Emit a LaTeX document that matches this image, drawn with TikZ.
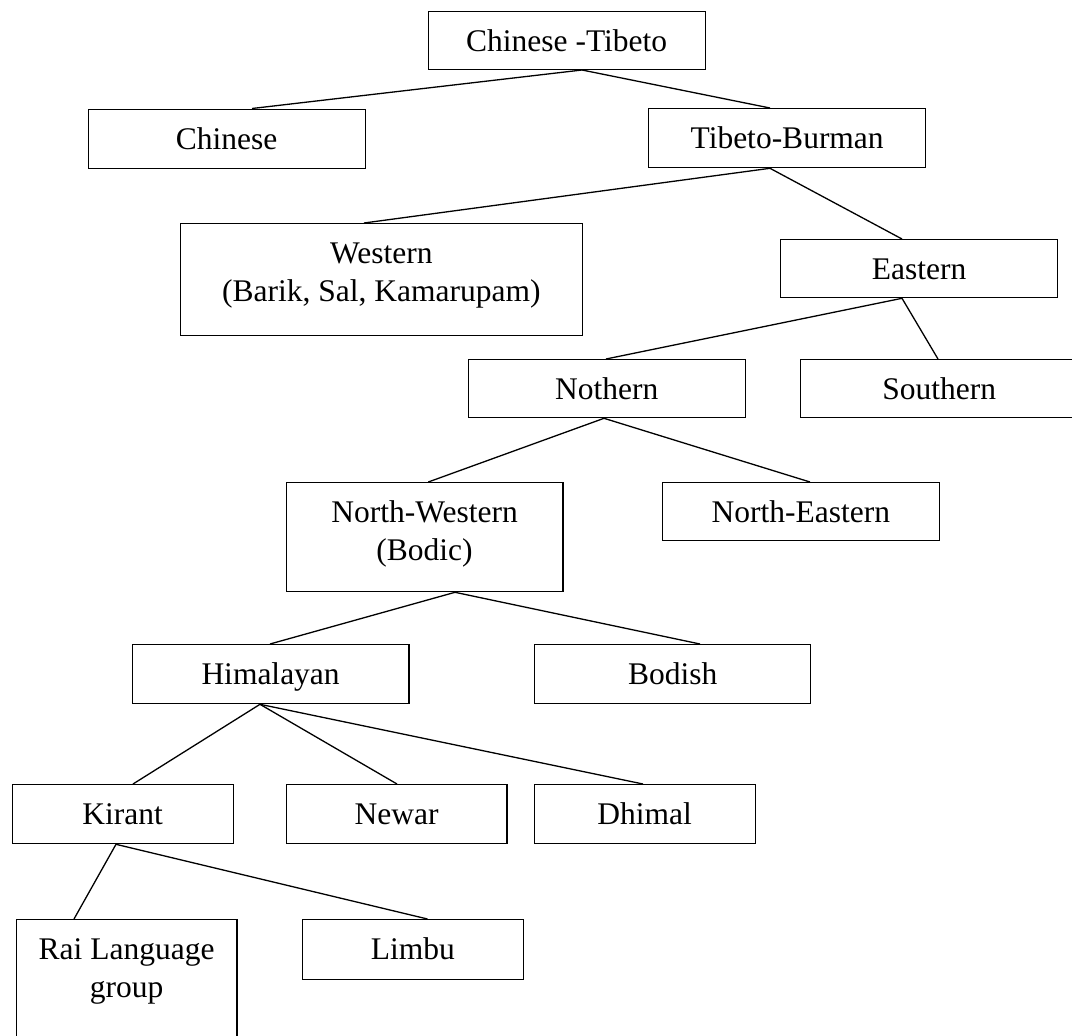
\documentclass[tikz,border=0pt]{standalone}
\usepackage{fontspec}
\setmainfont{Liberation Serif}
\usetikzlibrary{calc}
\newcommand\twolines[2]{\begin{tabular}[t]{@{}c@{}}#1\\#2\end{tabular}}
\newcommand\linkbox[4]{\draw[conn] ($(#1.south west)+(#2,0)$) -- ($(#3.north west)+(#4,0)$);}
\tikzset{
  box/.style={draw, line width=1.3pt, inner sep=0pt, anchor=north west,
    text height=40pt, text depth=18pt,
    font=\fontsize{31.5pt}{38pt}\selectfont},
  conn/.style={line width=1.3pt}
}
\begin{document}
\begin{tikzpicture}[x=1pt,y=-1pt]
\fill[white] (0,0) rectangle (1072,1036);
\clip (0,0) rectangle (1072,1036);
% boxes
\node[box, minimum width=277pt] (ct) at (427.5,10.7) {Chinese -Tibeto};
\node[box, minimum width=277pt, text depth=19pt] (chinese) at (87.5,108.5) {Chinese};
\node[box, minimum width=277pt, text depth=19pt] (tb) at (648,108) {Tibeto-Burman};
\node[box, minimum width=402.5pt, text depth=72pt] (western) at (179.5,223) {\twolines{Western}{(Barik, Sal, Kamarupam)}};
\node[box, minimum width=277pt] (eastern) at (780,239) {Eastern};
\node[box, minimum width=277pt] (nothern) at (467.5,359) {Nothern};
\node[box, minimum width=277pt] (southern) at (800,359) {Southern};
\node[box, minimum width=276.5pt, text depth=69pt] (nw) at (285.7,482) {\twolines{North-Western}{(Bodic)}};
\node[box, minimum width=276.5pt] (ne) at (662,482) {North-Eastern};
\node[box, minimum width=276.5pt, text depth=19pt] (him) at (131.7,644) {Himalayan};
\node[box, minimum width=276pt, text depth=19pt] (bodish) at (534,644) {Bodish};
\node[box, minimum width=221pt, text depth=19pt] (kirant) at (11.5,784) {Kirant};
\node[box, minimum width=220.5pt, text depth=19pt] (newar) at (285.7,784) {Newar};
\node[box, minimum width=221pt, text depth=19pt] (dhimal) at (533.5,784) {Dhimal};
\node[box, minimum width=220.5pt, text depth=100pt] (rai) at (15.7,919) {\twolines{Rai Language}{group}};
\node[box, minimum width=220.5pt, text depth=20pt] (limbu) at (302,919) {Limbu};
% connectors
\linkbox{ct}{154.5}{chinese}{164.5}
\linkbox{ct}{154.5}{tb}{122}
\linkbox{tb}{122}{western}{184.5}
\linkbox{tb}{122}{eastern}{122}
\linkbox{eastern}{122}{nothern}{138.5}
\linkbox{eastern}{122}{southern}{138}
\linkbox{nothern}{136.5}{nw}{142.6}
\linkbox{nothern}{136.5}{ne}{148}
\linkbox{nw}{169.3}{him}{138.3}
\linkbox{nw}{169.3}{bodish}{166}
\linkbox{him}{128.3}{kirant}{121.5}
\linkbox{him}{128.3}{newar}{111.3}
\linkbox{him}{128.3}{dhimal}{109.5}
\linkbox{kirant}{104.5}{rai}{58.3}
\linkbox{kirant}{104.5}{limbu}{125.5}
\end{tikzpicture}
\end{document}
